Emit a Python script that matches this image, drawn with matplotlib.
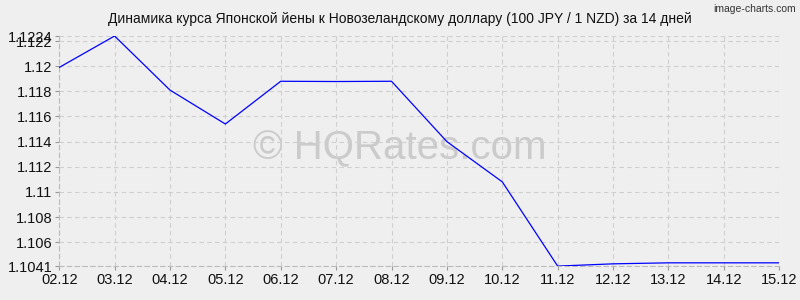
import matplotlib
matplotlib.use('Agg')
import matplotlib.pyplot as plt

# data
dates = ['02.12', '03.12', '04.12', '05.12', '06.12', '07.12', '08.12',
         '09.12', '10.12', '11.12', '12.12', '13.12', '14.12', '15.12']
rates = [1.1199, 1.1224, 1.1181, 1.1154, 1.1188, 1.11878, 1.1188,
         1.1140, 1.1108, 1.1041, 1.10428, 1.10436, 1.10436, 1.10436]
y_ticks = [1.1041, 1.106, 1.108, 1.11, 1.112, 1.114, 1.116, 1.118, 1.12, 1.122, 1.1224]
y_labels = ['1.1041', '1.106', '1.108', '1.11', '1.112', '1.114', '1.116',
            '1.118', '1.12', '1.122', '1.1224']

plt.rcParams['font.family'] = ['Liberation Sans', 'DejaVu Sans']

bg = '#efefef'
fig = plt.figure(figsize=(8, 3), dpi=100, facecolor=bg)
ax = fig.add_axes([0.074, 0.113, 0.9, 0.767], facecolor=bg)

x = list(range(len(dates)))

# watermark sits under the line
fig.text(0.5, 0.505, '© HQRates.com', ha='center', va='center',
         fontsize=29, color='#cbcbcb', zorder=1)
ax.set_zorder(2)
ax.patch.set_alpha(0)

ax.plot(x, rates, color='#0000ff', lw=0.9, zorder=3)

ax.set_xlim(0, len(dates) - 1)
ax.set_ylim(min(y_ticks), max(y_ticks))
ax.set_xticks(x)
ax.set_xticklabels(dates, fontsize=10.5)
ax.set_yticks(y_ticks)
ax.set_yticklabels(y_labels, fontsize=10.5)

ax.grid(True, color='#cfcfcf', linestyle=(0, (4, 3)), lw=0.8, zorder=0)
for side in ['top', 'right']:
    ax.spines[side].set_visible(False)
for side in ['left', 'bottom']:
    ax.spines[side].set_color('#bbbbbb')
    ax.spines[side].set_linestyle((0, (4, 3)))
    ax.spines[side].set_linewidth(0.8)
ax.tick_params(length=3, color='#999999', labelcolor='#111111', pad=2)

fig.text(0.5, 0.935, 'Динамика курса Японской йены к Новозеландскому доллару (100 JPY / 1 NZD) за 14 дней',
         ha='center', va='center', fontsize=10, color='#111111')
fig.text(0.995, 0.985, 'image-charts.com', ha='right', va='top', fontsize=7.5, color='#333333')

fig.savefig('out.png', dpi=100, facecolor=bg)
